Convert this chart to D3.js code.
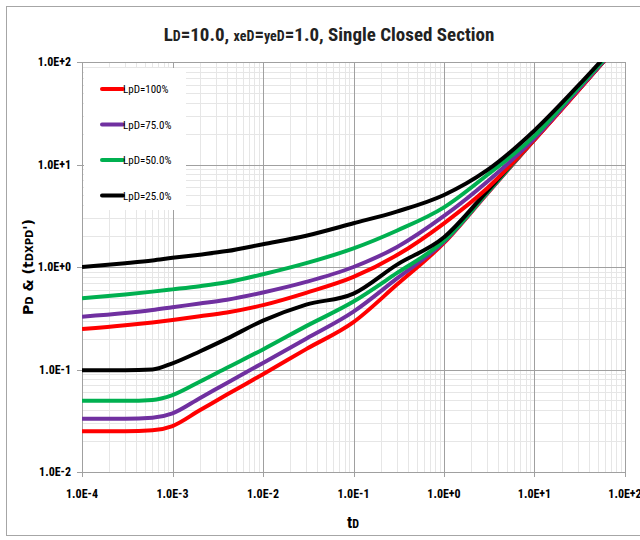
<!DOCTYPE html>
<html><head><meta charset="utf-8">
<script src="https://cdn.jsdelivr.net/npm/d3@7"></script>
<style>body{margin:0;background:#fff}svg{display:block}</style>
</head><body>
<div id="chart"></div>
<script>
const tD = [1e-4, 3e-4, 6e-4, 1e-3, 2e-3, 4e-3, 1e-2, 3e-2, 1e-1, 3e-1, 1, 3, 10, 30, 100];
const redPD    = [0.248, 0.27, 0.288, 0.304, 0.33, 0.36, 0.425, 0.56, 0.80, 1.30, 2.67, 5.86, 17.5, 52, 175];
const purplePD = [0.327, 0.355, 0.38, 0.405, 0.44, 0.48, 0.564, 0.715, 1.0, 1.56, 3.15, 6.8, 18, 53, 175];
const greenPD  = [0.495, 0.54, 0.575, 0.605, 0.65, 0.71, 0.85, 1.09, 1.52, 2.26, 3.82, 7.9, 19, 55, 176];
const blackPD  = [1.0, 1.09, 1.16, 1.23, 1.32, 1.43, 1.67, 2.02, 2.67, 3.47, 5.04, 8.8, 21.5, 58, 185];
const redDer    = [0.025, 0.025, 0.0255, 0.0281, 0.04, 0.057, 0.09, 0.158, 0.29, 0.67, 1.72, 5.2, 17.5, 52, 175];
const purpleDer = [0.033, 0.033, 0.0338, 0.0374, 0.0525, 0.074, 0.116, 0.2, 0.367, 0.77, 1.76, 5.25, 17.6, 52.5, 175];
const greenDer  = [0.0495, 0.0495, 0.0505, 0.0563, 0.076, 0.104, 0.157, 0.265, 0.46, 0.87, 1.8, 5.3, 17.7, 52.5, 175];
const blackDer  = [0.0985, 0.0985, 0.1, 0.115, 0.15, 0.2, 0.3, 0.43, 0.55, 1.05, 1.95, 5.5, 18, 53, 176];
const legendLabels = ["LpD=100%", "LpD=75.0%", "LpD=50.0%", "LpD=25.0%"];
const colors = ["#ff0000", "#7030a0", "#00b050", "#000000"];
const xTickLabels = ["1.0E-4","1.0E-3","1.0E-2","1.0E-1","1.0E+0","1.0E+1","1.0E+2"];
const yTickLabels = ["1.0E-2","1.0E-1","1.0E+0","1.0E+1","1.0E+2"];

const series = [
  {c: colors[0], v: redPD}, {c: colors[1], v: purplePD}, {c: colors[2], v: greenPD}, {c: colors[3], v: blackPD},
  {c: colors[0], v: redDer}, {c: colors[1], v: purpleDer}, {c: colors[2], v: greenDer}, {c: colors[3], v: blackDer}
];

const W = 640, H = 540;
const L = 82, R = 625, T = 62, B = 472;
const font = "'Liberation Sans Narrow','Arial Narrow','Roboto Condensed',sans-serif";
const svg = d3.select("#chart").append("svg").attr("width", W).attr("height", H);
svg.append("rect").attr("x", 6.5).attr("y", 6.5).attr("width", 650).attr("height", 529)
  .attr("fill", "#fff").attr("stroke", "#a6a6a6").attr("stroke-width", 1);

const x = d3.scaleLog().domain([1e-4, 1e2]).range([L, R]);
const y = d3.scaleLog().domain([1e-2, 1e2]).range([B, T]);

const g = svg.append("g");
const minorX = [], minorY = [];
for (let e = -4; e < 2; e++) for (let m = 2; m <= 9; m++) minorX.push(m * Math.pow(10, e));
for (let e = -2; e < 2; e++) for (let m = 2; m <= 9; m++) minorY.push(m * Math.pow(10, e));
g.selectAll(".mx").data(minorX).join("line").attr("x1", d => Math.round(x(d)) + 0.5).attr("x2", d => Math.round(x(d)) + 0.5)
  .attr("y1", T).attr("y2", B).attr("stroke", "#e6e6e6").attr("stroke-width", 1);
g.selectAll(".my").data(minorY).join("line").attr("y1", d => Math.round(y(d)) + 0.5).attr("y2", d => Math.round(y(d)) + 0.5)
  .attr("x1", L).attr("x2", R).attr("stroke", "#e6e6e6").attr("stroke-width", 1);
const majorX = xTickLabels.map(s => +s), majorY = yTickLabels.map(s => +s);
g.selectAll(".Mx").data(majorX).join("line").attr("x1", d => Math.round(x(d)) + 0.5).attr("x2", d => Math.round(x(d)) + 0.5)
  .attr("y1", T).attr("y2", B + 5).attr("stroke", "#a0a0a0").attr("stroke-width", 1);
g.selectAll(".My").data(majorY).join("line").attr("y1", d => Math.round(y(d)) + 0.5).attr("y2", d => Math.round(y(d)) + 0.5)
  .attr("x1", L - 5).attr("x2", R).attr("stroke", "#a0a0a0").attr("stroke-width", 1);

svg.append("rect").attr("x", 84).attr("y", 68).attr("width", 102).attr("height", 142).attr("fill", "#fff");

svg.append("clipPath").attr("id", "clip").append("rect").attr("x", L).attr("y", T).attr("width", R - L).attr("height", B - T);
const line = d3.line().x((d, i) => x(tD[i])).y(d => y(d)).curve(d3.curveMonotoneX);
const cg = svg.append("g").attr("clip-path", "url(#clip)");
[4, 5, 6, 7, 0, 1, 2, 3].forEach(i => {
  cg.append("path").attr("d", line(series[i].v)).attr("fill", "none")
    .attr("stroke", series[i].c).attr("stroke-width", 4).attr("stroke-linejoin", "round");
});

svg.selectAll(".xl").data(majorX).join("text").attr("x", d => x(d)).attr("y", 498)
  .attr("text-anchor", "middle").attr("font-family", font).attr("font-weight", "bold").attr("font-size", 12)
  .text((d, i) => xTickLabels[i]);
svg.selectAll(".yl").data(majorY).join("text").attr("x", 71).attr("y", d => y(d) + 4)
  .attr("text-anchor", "end").attr("font-family", font).attr("font-weight", "bold").attr("font-size", 12)
  .text((d, i) => yTickLabels[i]);

const title = svg.append("text").attr("x", 329).attr("y", 41).attr("text-anchor", "middle")
  .attr("font-family", font).attr("font-weight", "bold").attr("font-size", 19).attr("fill", "#222");
title.append("tspan").text("L");
title.append("tspan").attr("font-size", 14).text("D");
title.append("tspan").text("=10.0, ");
title.append("tspan").attr("font-size", 14).text("xeD");
title.append("tspan").text("=");
title.append("tspan").attr("font-size", 14).text("yeD");
title.append("tspan").text("=1.0, Single Closed Section");

const xt = svg.append("text").attr("x", 353).attr("y", 528).attr("text-anchor", "middle")
  .attr("font-family", font).attr("font-weight", "bold").attr("font-size", 17);
xt.append("tspan").text("t");
xt.append("tspan").attr("font-size", 12).text("D");

const yt = svg.append("text").attr("transform", "translate(33,267) rotate(-90)").attr("text-anchor", "middle")
  .attr("font-family", "'DejaVu Sans',sans-serif").attr("font-weight", "bold").attr("font-size", 14);
yt.append("tspan").text("P");
yt.append("tspan").attr("font-size", 10).text("D");
yt.append("tspan").text(" & (t");
yt.append("tspan").attr("font-size", 10).text("DXPD");
yt.append("tspan").text("')");

const leg = svg.append("g");
legendLabels.forEach((lab, i) => {
  const yy = 89 + i * 35.5;
  leg.append("line").attr("x1", 102).attr("x2", 123).attr("y1", yy).attr("y2", yy)
    .attr("stroke", colors[i]).attr("stroke-width", 4).attr("stroke-linecap", "round");
  leg.append("text").attr("x", 123).attr("y", yy + 4).attr("font-family", font).attr("font-size", 11)
    .text(lab);
});
</script>
</body></html>
